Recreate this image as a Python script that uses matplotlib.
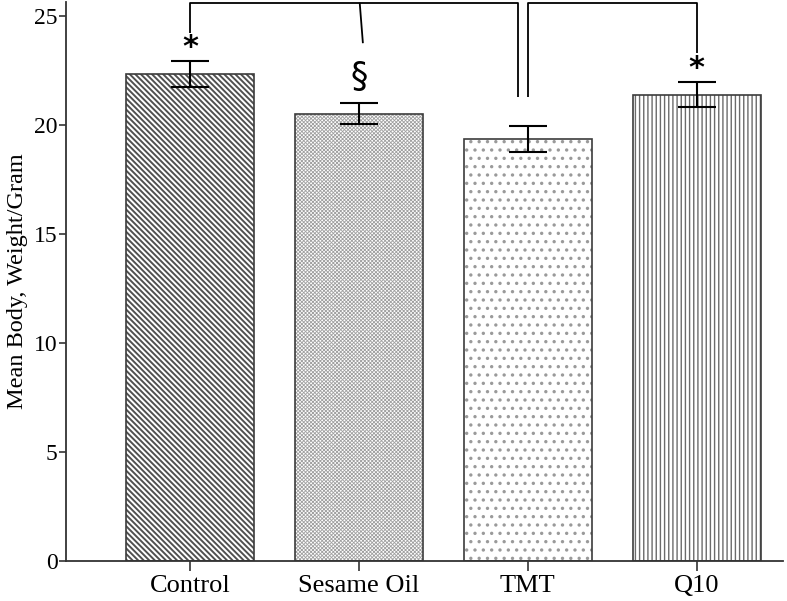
import numpy as np
import matplotlib
matplotlib.use("Agg")
import matplotlib.pyplot as plt

plt.rcParams["font.family"] = ["Liberation Serif", "DejaVu Serif"]

groups = ["Control", "Sesame Oil", "TMT", "Q10"]
means = [22.35, 20.53, 19.38, 21.40]
errs = [0.58, 0.48, 0.60, 0.57]
marks = ["*", "§", "", "*"]

hatches = ["\\" * 6, "x" * 9, "..", "||||"]
hatch_colors = ["#505050", "#a0a0a0", "#9a9a9a", "#6a6a6a"]
hatch_lw = [1.4, 0.6, 1.2, 1.0]

EDGE = "#3c3c3c"

fig = plt.figure(figsize=(7.87, 6.01), dpi=100)
ax = fig.add_axes([66 / 787, 1 - 561 / 601, (783 - 66) / 787, (561 - 2) / 601])

x = np.arange(len(groups))
for i in range(len(groups)):
    b = ax.bar(x[i], means[i], width=0.76, color="white", edgecolor=hatch_colors[i],
               hatch=hatches[i], linewidth=0, zorder=1)
    for p in b:
        if hasattr(p, "set_hatch_linewidth"):
            p.set_hatch_linewidth(hatch_lw[i])
ax.bar(x, means, width=0.76, color="none", edgecolor=EDGE, linewidth=1.2, zorder=2)
ax.errorbar(x, means, yerr=errs, fmt="none", ecolor="black", elinewidth=1.5,
            capsize=14, capthick=1.5, zorder=3)

for xi, m, e, s in zip(x, means, errs, marks):
    if s == "*":
        ax.text(xi, m + e + 0.62, s, ha="center", va="center", fontsize=22,
                fontweight="bold", family="DejaVu Sans", zorder=4)
    elif s:
        ax.text(xi, m + e + 1.2, s, ha="center", va="center", fontsize=25,
                family="DejaVu Sans", zorder=4)

# significance brackets
top = 25.62
kw = dict(color="black", lw=1.3, clip_on=False, solid_capstyle="butt")
ax.plot([0, 0, 1.94, 1.94], [24.25, top, top, 21.28], **kw)
ax.plot([1.005, 1.024], [top, 23.76], **kw)
ax.plot([2.0, 2.0, 3.0, 3.0], [21.28, top, top, 23.3], **kw)

ax.set_xlim(-0.733, 3.51)
ax.set_ylim(0, 25.65)
ax.set_yticks([0, 5, 10, 15, 20, 25])
ax.set_xticks(x)
ax.set_xticklabels(groups)
ax.set_ylabel("Mean Body, Weight/Gram", fontsize=17.5, labelpad=4)

for side in ("top", "right"):
    ax.spines[side].set_visible(False)
for side in ("left", "bottom"):
    ax.spines[side].set_color("#333333")
    ax.spines[side].set_linewidth(1.3)
ax.tick_params(axis="y", length=5, width=1.2, color="#333333", labelsize=17, pad=1)
ax.tick_params(axis="x", length=7, width=1.2, color="#333333", labelsize=19, pad=3)

fig.savefig("out.png", dpi=100)
